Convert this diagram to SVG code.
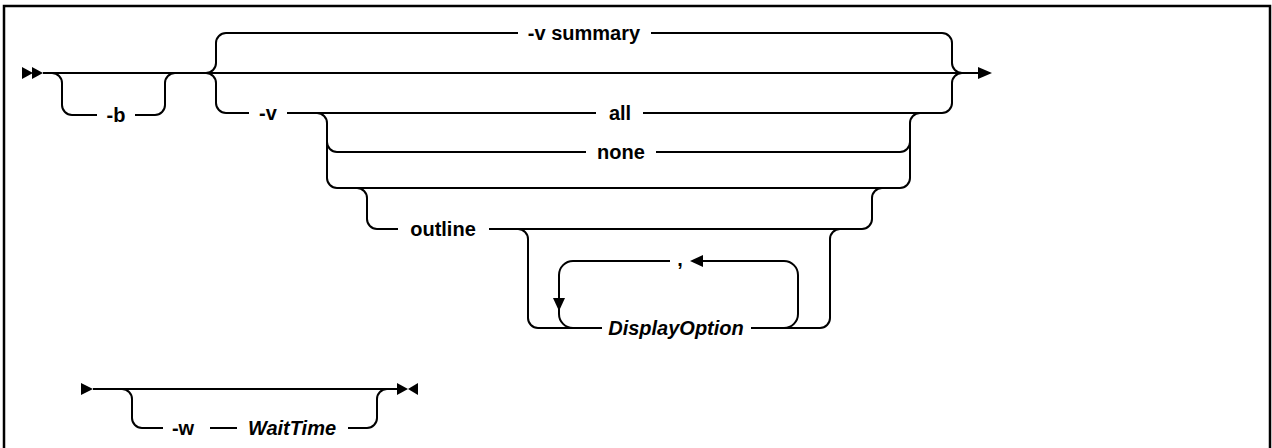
<svg xmlns="http://www.w3.org/2000/svg" width="1272" height="448" viewBox="0 0 1272 448">
<style>
.ln{fill:none;stroke:#000;stroke-width:2;}
.ah{fill:#000;stroke:none;}
.t{font-family:"Liberation Sans",Arial,sans-serif;font-size:20px;font-weight:bold;fill:#000;text-anchor:middle;}
.i{font-style:italic;}
</style>
<rect x="0" y="0" width="1272" height="448" fill="#fff"/>
<rect x="4" y="6" width="1266" height="470" fill="none" stroke="#000" stroke-width="2.5"/>
<g id="connectors">
  <!-- top row main -->
  <polygon class="ah" points="22,67 33,73 22,79"/>
  <polygon class="ah" points="32,67 43,73 32,79"/>
  <path class="ln" d="M43,73 H978"/>
  <polygon class="ah" points="978,67 992,73 978,79"/>
  <!-- -b bypass -->
  <path class="ln" d="M52,73 a10,10 0 0 1 10,10 V105 a10,10 0 0 0 10,10 H97"/>
  <path class="ln" d="M135,115 H155 a10,10 0 0 0 10,-10 V83 a10,10 0 0 1 10,-10"/>
  <!-- choice brace left -->
  <path class="ln" d="M206,73 a10,10 0 0 0 10,-10 V43 a10,10 0 0 1 10,-10 H518"/>
  <path class="ln" d="M206,73 a10,10 0 0 1 10,10 V103 a10,10 0 0 0 10,10 H249"/>
  <!-- -v summary right part -->
  <path class="ln" d="M651,33 H942 a10,10 0 0 1 10,10 V63 a10,10 0 0 0 10,10"/>
  <!-- -v line -->
  <path class="ln" d="M287,113 H596"/>
  <path class="ln" d="M643,113 H942 a10,10 0 0 0 10,-10 V83 a10,10 0 0 1 10,-10"/>
  <!-- inner choice left -->
  <path class="ln" d="M317,113 a10,10 0 0 1 10,10 V178 a10,10 0 0 0 10,10 H900 a10,10 0 0 0 10,-10 V123 a10,10 0 0 1 10,-10"/>
  <path class="ln" d="M327,142 a10,10 0 0 0 10,10 H586"/>
  <path class="ln" d="M656,152 H900 a10,10 0 0 0 10,-10"/>
  <!-- outline branch -->
  <path class="ln" d="M357,188 a10,10 0 0 1 10,10 V219 a10,10 0 0 0 10,10 H398"/>
  <path class="ln" d="M489,229 H862 a10,10 0 0 0 10,-10 V198 a10,10 0 0 1 10,-10"/>
  <!-- DisplayOption group -->
  <path class="ln" d="M518,229 a10,10 0 0 1 10,10 V318 a10,10 0 0 0 10,10 H602"/>
  <path class="ln" d="M751,328 H820 a10,10 0 0 0 10,-10 V239 a10,10 0 0 1 10,-10"/>
  <!-- repeat loop -->
  <path class="ln" d="M670,261 H573 a14,14 0 0 0 -14,14 V314 a14,14 0 0 0 14,14"/>
  <polygon class="ah" points="553,298 565,298 559,311"/>
  <path class="ln" d="M784,328 a14,14 0 0 0 14,-14 V275 a14,14 0 0 0 -14,-14 H702"/>
  <polygon class="ah" points="690,261 703,255 703,267"/>
  <!-- bottom row -->
  <polygon class="ah" points="81,383 93,389 81,395"/>
  <path class="ln" d="M93,389 H397"/>
  <polygon class="ah" points="397,383 408,389 397,395"/>
  <polygon class="ah" points="418,383 408,389 418,395"/>
  <path class="ln" d="M122,389 a10,10 0 0 1 10,10 V418 a10,10 0 0 0 10,10 H163"/>
  <path class="ln" d="M210,428 H237"/>
  <path class="ln" d="M348,428 H367 a10,10 0 0 0 10,-10 V399 a10,10 0 0 1 10,-10"/>
</g>
<g id="node-b"><text class="t" x="116" y="122">-b</text></g>
<g id="node-vsummary"><text class="t" x="584" y="40">-v summary</text></g>
<g id="node-v"><text class="t" x="268" y="120">-v</text></g>
<g id="node-all"><text class="t" x="620" y="120">all</text></g>
<g id="node-none"><text class="t" x="621" y="159">none</text></g>
<g id="node-outline"><text class="t" x="443" y="236">outline</text></g>
<g id="node-comma"><text class="t" x="680" y="266">,</text></g>
<g id="node-displayoption"><text class="t i" x="676" y="335">DisplayOption</text></g>
<g id="node-w"><text class="t" x="183" y="435">-w</text></g>
<g id="node-waittime"><text class="t i" x="292" y="435">WaitTime</text></g>
</svg>
